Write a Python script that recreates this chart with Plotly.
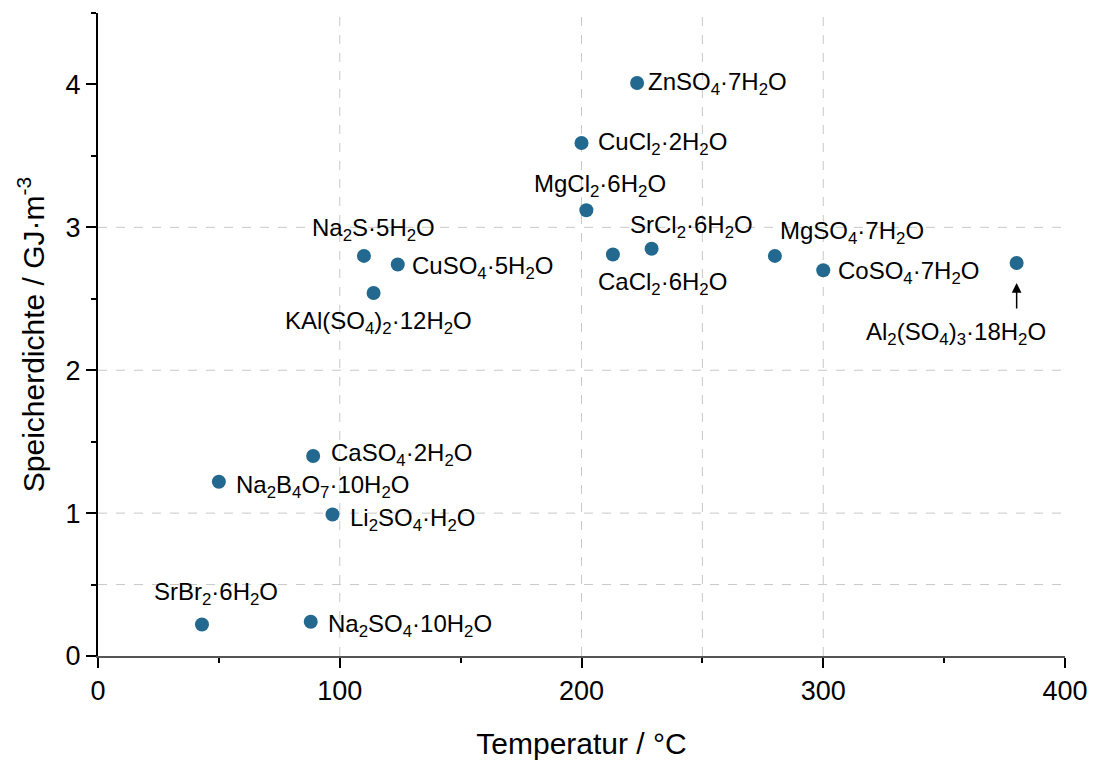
import plotly.graph_objects as go

# ---- data ----
names = [
    "ZnSO<sub>4</sub>·7H<sub>2</sub>O",
    "CuCl<sub>2</sub>·2H<sub>2</sub>O",
    "MgCl<sub>2</sub>·6H<sub>2</sub>O",
    "CaCl<sub>2</sub>·6H<sub>2</sub>O",
    "SrCl<sub>2</sub>·6H<sub>2</sub>O",
    "MgSO<sub>4</sub>·7H<sub>2</sub>O",
    "CoSO<sub>4</sub>·7H<sub>2</sub>O",
    "Al<sub>2</sub>(SO<sub>4</sub>)<sub>3</sub>·18H<sub>2</sub>O",
    "Na<sub>2</sub>S·5H<sub>2</sub>O",
    "CuSO<sub>4</sub>·5H<sub>2</sub>O",
    "KAl(SO<sub>4</sub>)<sub>2</sub>·12H<sub>2</sub>O",
    "CaSO<sub>4</sub>·2H<sub>2</sub>O",
    "Na<sub>2</sub>B<sub>4</sub>O<sub>7</sub>·10H<sub>2</sub>O",
    "Li<sub>2</sub>SO<sub>4</sub>·H<sub>2</sub>O",
    "SrBr<sub>2</sub>·6H<sub>2</sub>O",
    "Na<sub>2</sub>SO<sub>4</sub>·10H<sub>2</sub>O",
]
temperature = [223, 200, 202, 213, 229, 280, 300, 380, 110, 124, 114, 89, 50, 97, 43, 88]
density = [4.01, 3.59, 3.12, 2.81, 2.85, 2.80, 2.70, 2.75, 2.80, 2.74, 2.54, 1.40, 1.22, 0.99, 0.22, 0.24]

x_ticks = [0, 100, 200, 300, 400]
y_ticks = [0, 1, 2, 3, 4]
grid_x = [100, 200, 250, 300]
grid_y = [0.5, 1, 2, 3]

# ---- label placement (anchor, xshift, yshift in px) ----
label_pos = [
    ("left", "middle", 9, 0),
    ("left", "middle", 14, 0),
    ("center", "middle", 14, 25),
    ("left", "middle", -17, -29),
    ("left", "middle", -24, 22),
    ("left", "middle", 3, 23),
    ("left", "middle", 13, -2),
    ("center", "middle", -61, -70),
    ("center", "middle", 10, 26),
    ("left", "middle", 12, -3),
    ("center", "middle", 5, -29),
    ("left", "middle", 16, 1),
    ("left", "middle", 15, -5),
    ("left", "middle", 15, -5),
    ("center", "middle", 14, 31),
    ("left", "middle", 15, -4),
]

FONT = "Liberation Sans, Arial, sans-serif"
COLOR = "#22688f"

fig = go.Figure()
fig.add_trace(go.Scatter(
    x=temperature, y=density, mode="markers",
    marker=dict(size=14, color=COLOR, line=dict(width=0)),
    showlegend=False, hoverinfo="skip",
))

shapes = []
for gx in grid_x:
    shapes.append(dict(type="line", xref="x", yref="y", x0=gx, x1=gx, y0=0, y1=4.5,
                       line=dict(color="#c8c8c8", width=1, dash="dash"), layer="below"))
for gy in grid_y:
    shapes.append(dict(type="line", xref="x", yref="y", x0=0, x1=400, y0=gy, y1=gy,
                       line=dict(color="#c8c8c8", width=1, dash="dash"), layer="below"))

annotations = []
for name, tx, dy, (xa, ya, xs, ys) in zip(names, temperature, density, label_pos):
    annotations.append(dict(x=tx, y=dy, xref="x", yref="y", text=name, showarrow=False,
                            xanchor=xa, yanchor=ya, xshift=xs, yshift=ys,
                            font=dict(family=FONT, size=24, color="black")))
# arrow for Al2(SO4)3
annotations.append(dict(x=temperature[7], y=density[7], xref="x", yref="y", text="",
                        showarrow=True, ax=0, ay=47, arrowhead=2, arrowsize=1.3,
                        arrowwidth=1.5, arrowcolor="black", standoff=20))

fig.update_layout(
    width=1094, height=764,
    margin=dict(l=98, r=29, t=13, b=108, autoexpand=False),
    paper_bgcolor="white", plot_bgcolor="white",
    font=dict(family=FONT, size=27, color="black"),
    shapes=shapes, annotations=annotations,
    xaxis=dict(
        range=[0, 400], tickvals=x_ticks, showgrid=False, zeroline=False,
        automargin=False,
        showline=True, linecolor="#555555", linewidth=2,
        ticks="outside", ticklen=10, tickwidth=2, tickcolor="black",
        tickfont=dict(size=27),
        minor=dict(dtick=50, ticks="outside", ticklen=5, tickwidth=2, tickcolor="black", showgrid=False),
        title=dict(text="Temperatur / °C", font=dict(size=30), standoff=28),
    ),
    yaxis=dict(
        range=[0, 4.5], tickvals=y_ticks, showgrid=False, zeroline=False,
        automargin=False,
        showline=True, linecolor="black", linewidth=2,
        ticks="outside", ticklen=10, tickwidth=2, tickcolor="black",
        tickfont=dict(size=27),
        minor=dict(dtick=0.5, ticks="outside", ticklen=5, tickwidth=2, tickcolor="black", showgrid=False),
        title=dict(text="Speicherdichte / GJ·m<sup>-3</sup>", font=dict(size=30), standoff=12),
    ),
)

fig.write_html("out.html")
